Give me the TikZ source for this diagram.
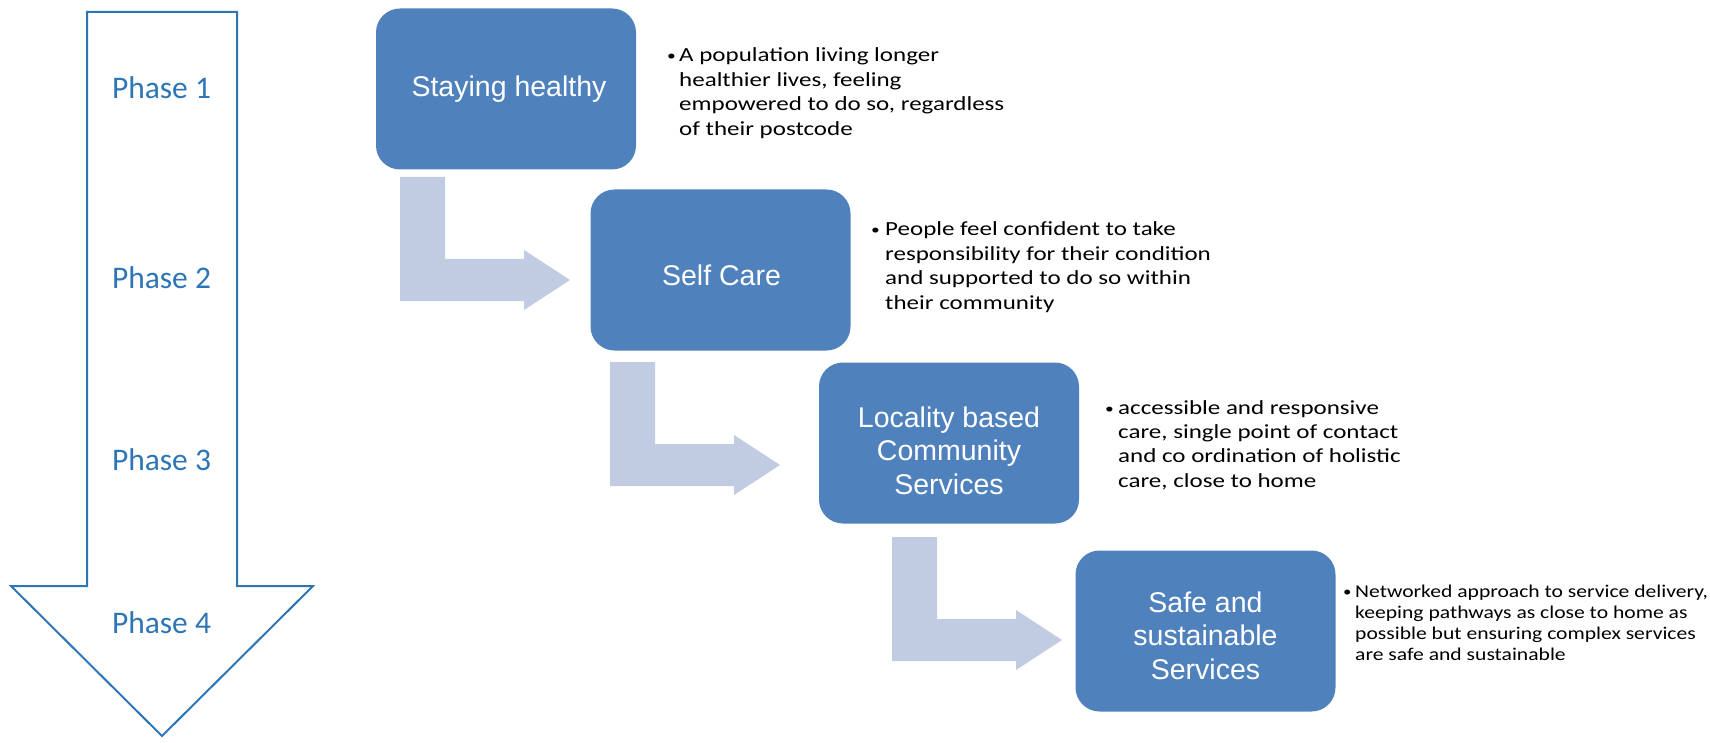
\documentclass[tikz,border=0pt]{standalone}
\usepackage{fontspec}
\setmainfont{Carlito}
\newfontfamily\phasefont{Carlito}
\newfontfamily\boxfont{Liberation Sans}
\newfontfamily\bulfont[FakeStretch=1.25]{Carlito}
\newfontfamily\bulfontsmall[FakeStretch=1.2]{Carlito}
\definecolor{phaseblue}{RGB}{46,117,182}
\definecolor{boxblue}{RGB}{79,129,189}
\definecolor{lightarrow}{RGB}{193,204,226}
\newcommand\bentarr[2]{\fill[bentstyle] (#1,#2) -- ++(45,0) -- ++(0,82) -- ++(79,0) -- ++(0,-9) -- ++(46,30) -- ++(-46,30) -- ++(0,-9) -- ++(-124,0) -- cycle;}
\newcommand\mybul[1]{\makebox[#1][l]{\raisebox{1pt}{\fontsize{14}{14}\selectfont •}}}
\begin{document}
\begin{tikzpicture}[x=1pt,y=-1pt,
  bigarrow/.style={draw=phaseblue, line width=2pt, line join=miter},
  phaselabel/.style={anchor=base, inner sep=0pt, text=phaseblue, font=\phasefont\fontsize{31.5}{36}\selectfont},
  stagebox/.style={fill=boxblue, draw=none, rounded corners=24pt, minimum width=260pt, minimum height=161pt, inner sep=0pt},
  boxtext/.style={anchor=base, inner sep=0pt, text=white, font=\boxfont\fontsize{28.5}{33.5}\selectfont},
  bullettext/.style={anchor=base west, inner sep=0pt, text=black, font=\bulfont\fontsize{20}{24.4}\selectfont},
  bullettextsmall/.style={anchor=base west, inner sep=0pt, text=black, font=\bulfontsmall\fontsize{18}{21.3}\selectfont},
  bentstyle/.style={fill=lightarrow}]
\useasboundingbox (0,0) rectangle (1710,743);

% big downward arrow
\draw[bigarrow] (87,12) -- (237,12) -- (237,586) -- (313,586) -- (162,736) -- (11,586) -- (87,586) -- cycle;
\node[phaselabel] (p1) at (161.5,98.5) {Phase 1};
\node[phaselabel] (p2) at (161.5,288) {Phase 2};
\node[phaselabel] (p3) at (161.5,470) {Phase 3};
\node[phaselabel] (p4) at (161.5,633) {Phase 4};

% bent arrows
\bentarr{400}{177}
\bentarr{610}{362}
\bentarr{892}{537}

% stage boxes
\node[stagebox] (b1) at (506,89) {};
\node[stagebox] (b2) at (720.5,270) {};
\node[stagebox] (b3) at (949,443) {};
\node[stagebox] (b4) at (1205.5,631) {};

\node[boxtext] (t1) at (509,97) {Staying healthy};
\node[boxtext] (t2) at (721.5,286) {Self Care};
\node[boxtext] (t3) at (949,427) {\begin{tabular}[t]{@{}c@{}}Locality based\\Community\\Services\end{tabular}};
\node[boxtext] (t4) at (1205.5,612) {\begin{tabular}[t]{@{}c@{}}Safe and\\sustainable\\Services\end{tabular}};

% descriptions
\node[bullettext] (d1) at (667,62) {\begin{tabular}[t]{@{}l@{}l@{}}\mybul{12pt}&A population living longer\\&healthier lives, feeling\\&empowered to do so, regardless\\&of their postcode\end{tabular}};
\node[bullettext] (d2) at (871,236) {\begin{tabular}[t]{@{}l@{}l@{}}\mybul{14pt}&People feel confident to take\\&responsibility for their condition\\&and supported to do so within\\&their community\end{tabular}};
\node[bullettext] (d3) at (1105,414) {\begin{tabular}[t]{@{}l@{}l@{}}\mybul{13pt}&accessible and responsive\\&care, single point of contact\\&and co ordination of holistic\\&care, close to home\end{tabular}};
\node[bullettextsmall] (d4) at (1343,597) {\begin{tabular}[t]{@{}l@{}l@{}}\mybul{12pt}&Networked approach to service delivery,\\&keeping pathways as close to home as\\&possible but ensuring complex services\\&are safe and sustainable\end{tabular}};
\end{tikzpicture}
\end{document}
